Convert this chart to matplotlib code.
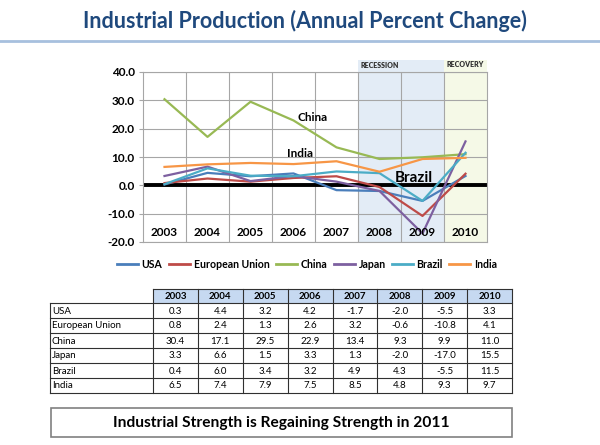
import matplotlib
matplotlib.use('Agg')
import matplotlib.pyplot as plt
import numpy as np
from matplotlib.patches import Rectangle
from matplotlib.lines import Line2D

plt.rcParams['font.family'] = ['Lato', 'DejaVu Sans']

years = ['2003', '2004', '2005', '2006', '2007', '2008', '2009', '2010']
usa = [0.3, 4.4, 3.2, 4.2, -1.7, -2.0, -5.5, 3.3]
eu = [0.8, 2.4, 1.3, 2.6, 3.2, -0.6, -10.8, 4.1]
china = [30.4, 17.1, 29.5, 22.9, 13.4, 9.3, 9.9, 11.0]
japan = [3.3, 6.6, 1.5, 3.3, 1.3, -2.0, -17.0, 15.5]
brazil = [0.4, 6.0, 3.4, 3.2, 4.9, 4.3, -5.5, 11.5]
india = [6.5, 7.4, 7.9, 7.5, 8.5, 4.8, 9.3, 9.7]
series_names = ['USA', 'European Union', 'China', 'Japan', 'Brazil', 'India']
series_values = [usa, eu, china, japan, brazil, india]
colors = ['#4a7ebb', '#be4b48', '#98b954', '#7d60a0', '#4bacc6', '#f79646']
yticks = [-20, -10, 0, 10, 20, 30, 40]

W, H = 600, 445
fig = plt.figure(figsize=(6, 4.45), dpi=100)
bg = fig.add_axes([0, 0, 1, 1], zorder=0)
bg.set_xlim(0, W)
bg.set_ylim(H, 0)
bg.axis('off')


def px_axes(l, t, r, b, z=1):
    return fig.add_axes([l / W, 1 - b / H, (r - l) / W, (b - t) / H], zorder=z)


# Title
bg.text(305, 21, 'Industrial Production (Annual Percent Change)', fontsize=15.5,
        fontweight='bold', color='#1f497d', ha='center', va='center')
bg.plot([0, 600], [41, 41], color='#a7c0de', lw=2)

# Chart
ax = px_axes(143, 72, 487, 242)
ax.set_facecolor('none')
x = np.arange(len(years))
ax.set_xlim(-0.5, len(years) - 0.5)
ax.set_ylim(-20, 40)
ax.add_patch(Rectangle((4.5, -20), 2, 64.3, facecolor='#e3ecf6', edgecolor='none',
                       clip_on=False, zorder=0))
ax.add_patch(Rectangle((6.5, -20), 1, 64.3, facecolor='#f5f9e7', edgecolor='none',
                       clip_on=False, zorder=0))
ax.set_yticks(yticks)
ax.set_yticklabels([f'{v:.1f}' for v in yticks], fontsize=8.5, fontweight='bold')
ax.yaxis.grid(True, color='#a6a6a6', lw=0.8, zorder=1)
ax.set_axisbelow(True)
for b in np.arange(0.5, len(years) - 1, 1):
    ax.axvline(b, color='#a6a6a6', lw=0.8, zorder=1)
for s in ax.spines.values():
    s.set_color('#a6a6a6')
    s.set_linewidth(0.8)
ax.tick_params(axis='y', length=3, color='#a6a6a6', pad=3)
ax.set_xticks([])
for xi, yr in zip(x, years):
    ax.text(xi, -16.5, yr, fontsize=8.5, fontweight='bold', ha='center', va='center', zorder=5)
ax.axhline(0, color='black', lw=2.8, zorder=2)
for name, vals, c in zip(series_names, series_values, colors):
    ax.plot(x, vals, color=c, lw=1.6, zorder=3)
ax.text(3.45, 24, 'China', fontsize=8.5, fontweight='bold', ha='center', va='center')
ax.text(3.15, 11.3, 'India', fontsize=8.5, fontweight='bold', ha='center', va='center')
ax.text(5.8, 2.5, 'Brazil', fontsize=11, fontweight='bold', ha='center', va='center')
ax.text(5.0, 42.4, 'RECESSION', fontsize=5, fontweight='heavy', color='#303030',
        ha='center', va='center', clip_on=False)
ax.text(7.0, 42.8, 'RECOVERY', fontsize=5, fontweight='heavy', color='#303030',
        ha='center', va='center', clip_on=False)

handles = [Line2D([], [], color=c, lw=2) for c in colors]
fig.legend(handles, series_names, loc='center', bbox_to_anchor=(307 / W, 1 - 264 / H),
           ncol=6, frameon=False, prop={'size': 7.6, 'weight': 'bold'},
           handlelength=2.0, handletextpad=0.35, columnspacing=0.6)

# Table
col_edges = [50] + list(np.linspace(153, 512, len(years) + 1))
row_top = 289
row_edges = list(np.linspace(303, 393, len(series_names) + 1))
lc = '#303030'
for i in range(len(years)):
    x0, x1 = col_edges[i + 1], col_edges[i + 2]
    bg.add_patch(Rectangle((x0, row_top), x1 - x0, row_edges[0] - row_top,
                           facecolor='#c6d9f1', edgecolor='none'))
    bg.text((x0 + x1) / 2, (row_top + row_edges[0]) / 2 + 0.5, years[i], fontsize=7,
            fontweight='bold', ha='center', va='center')
bg.plot([col_edges[1], col_edges[-1]], [row_top, row_top], color=lc, lw=0.8)
for yv in row_edges:
    bg.plot([col_edges[0], col_edges[-1]], [yv, yv], color=lc, lw=0.8)
for j, xv in enumerate(col_edges):
    top = row_edges[0] if j == 0 else row_top
    bg.plot([xv, xv], [top, row_edges[-1]], color=lc, lw=0.8)
for r, (name, vals) in enumerate(zip(series_names, series_values)):
    yc = (row_edges[r] + row_edges[r + 1]) / 2 + 0.5
    bg.text(col_edges[0] + 2, yc, name, fontsize=7, ha='left', va='center')
    for i, v in enumerate(vals):
        bg.text((col_edges[i + 1] + col_edges[i + 2]) / 2, yc, f'{v:.1f}', fontsize=7,
                ha='center', va='center')

# Bottom box
bg.add_patch(Rectangle((51, 408), 461, 29, facecolor='white', edgecolor='#808080', lw=1.2))
bg.text(281.5, 422.5, 'Industrial Strength is Regaining Strength in 2011', fontsize=11.2,
        fontweight='bold', ha='center', va='center')

fig.savefig('out.png', dpi=100)
